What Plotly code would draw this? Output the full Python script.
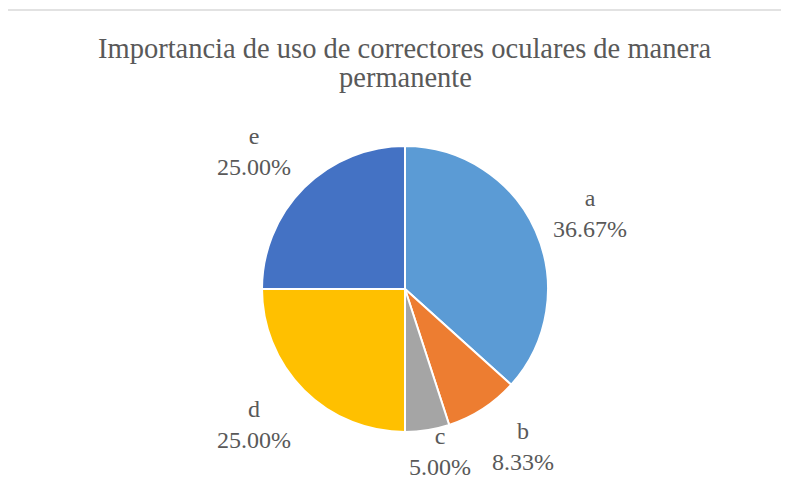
import math
import plotly.graph_objects as go

categories = ["a", "b", "c", "d", "e"]
values = [36.67, 8.33, 5.00, 25.00, 25.00]
colors = ["#5B9BD5", "#ED7D31", "#A5A5A5", "#FFC000", "#4472C4"]
title_lines = ["Importancia de uso de correctores oculares de manera", "permanente"]

W, H = 789, 479
OFF = 8  # page body margin
cx, cy, r = 405 - OFF, 289 - OFF, 143
SERIF = "Times New Roman, Liberation Serif, DejaVu Serif, serif"
# label placement tweaks (distance from centre, pixel nudges)
label_dist = {"c": 167}
label_nudge = {"a": (2, 6), "b": (9, -10), "c": (9, -2), "d": (-10, -6), "e": (-10, 4)}


def px(x):
    return x / W


def py(y):
    return 1 - y / H


fig = go.Figure(go.Pie(
    labels=categories, values=values, sort=False, direction="clockwise",
    rotation=0, marker=dict(colors=colors, line=dict(color="white", width=2)),
    textinfo="none", hoverinfo="label+percent", showlegend=False,
    domain=dict(x=[px(cx - r), px(cx + r)], y=[py(cy + r), py(cy - r)]),
))

total = sum(values)
cum = 0
for cat, v in zip(categories, values):
    mid = (cum + v / 2) / total * 2 * math.pi
    cum += v
    d = label_dist.get(cat, 200)
    x = cx + d * math.sin(mid)
    y = cy - d * math.cos(mid)
    nx, ny = label_nudge.get(cat, (0, 0))
    fig.add_annotation(x=px(x), y=py(y), xref="paper", yref="paper",
                       xshift=nx, yshift=-ny,
                       text=f"{cat}<br>{v:.2f}%", showarrow=False, align="center",
                       xanchor="center", yanchor="middle",
                       font=dict(family=SERIF, size=24, color="#595959"))

for i, line in enumerate(title_lines):
    fig.add_annotation(x=px(405 - OFF), y=py(48 + 30 * i - OFF), xref="paper", yref="paper",
                       text=line, showarrow=False, align="center",
                       xanchor="center", yanchor="middle",
                       font=dict(family=SERIF, size=28.5, color="#595959"))

fig.add_shape(type="line", xref="paper", yref="paper", x0=px(7 - OFF), x1=1.05,
              y0=py(10 - OFF), y1=py(10 - OFF), line=dict(color="#D9D9D9", width=1.5))
fig.add_shape(type="line", xref="paper", yref="paper", x0=px(7 - OFF), x1=px(7 - OFF),
              y0=-0.05, y1=py(10 - OFF), line=dict(color="#D9D9D9", width=1.5))

fig.update_layout(
    width=W, height=H, margin=dict(l=0, r=0, t=0, b=0),
    paper_bgcolor="white", plot_bgcolor="white",
)

fig.write_html("out.html")
